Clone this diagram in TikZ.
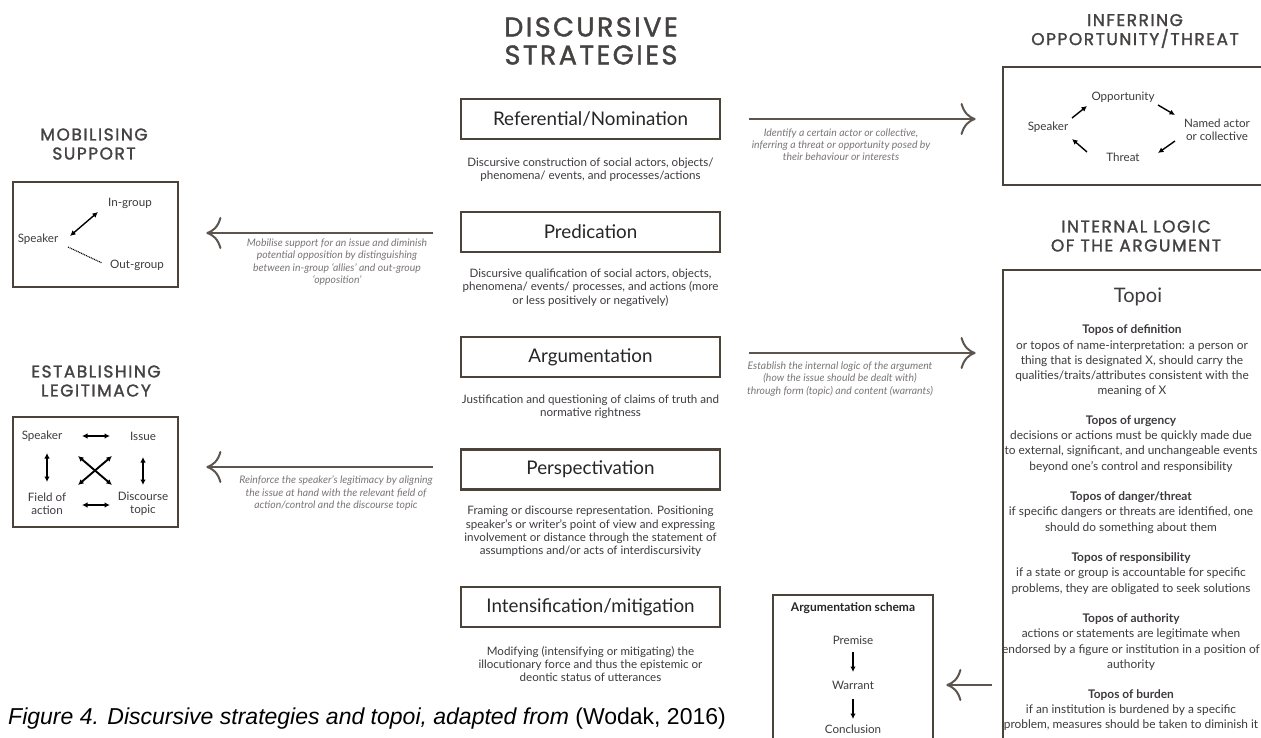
\documentclass[tikz,border=0pt]{standalone}
\usepackage{fontspec}
\setmainfont{Lato}
\newfontfamily\headfont{Poppins}[LetterSpace=9, FakeBold=1.5]
\newfontfamily\capfont{Liberation Sans}
\usetikzlibrary{arrows.meta,calc}

\definecolor{framebrown}{HTML}{4B4239}
\definecolor{headgray}{HTML}{454242}
\definecolor{textgray}{HTML}{3E3A3F}
\definecolor{notegray}{HTML}{7B7676}

\begin{document}
\begin{tikzpicture}[x=1pt,y=-1pt,
    heading/.style={font=\headfont\fontsize{27}{28}\selectfont, text=headgray, align=center},
    subheading/.style={font=\headfont\fontsize{17}{19}\selectfont, text=headgray, align=center},
    strategy/.style={draw=framebrown, line width=2.8pt, minimum width=259pt, minimum height=40pt,
        font=\fontsize{18.8}{20}\selectfont, text=black!85},
    gloss/.style={font=\fontsize{11.6}{13.4}\selectfont, text=textgray, align=center},
    note/.style={font=\itshape\fontsize{10.4}{12.2}\selectfont, text=notegray, align=center},
    panel/.style={draw=framebrown, line width=2.8pt},
    entry/.style={font=\fontsize{11.6}{12.5}\selectfont, text=textgray, align=center, inner sep=1pt},
    topos/.style={font=\fontsize{11.9}{15.23}\selectfont, text=textgray, align=center},
    bigarrow/.style={draw=framebrown!90, line width=2pt, -{To[length=15pt,width=32pt]}},
    onehead/.style={line width=1.4pt, -{Latex[length=5.5pt,width=5.5pt]}},
    twohead/.style={line width=1.4pt, {Latex[length=5.5pt,width=5.5pt]}-{Latex[length=5.5pt,width=5.5pt]}},
  ]
  \useasboundingbox (0,0) rectangle (1261,738);
  \clip (0,0) rectangle (1261,738);
  \fill[white] (0,0) rectangle (1261,738);

  % centre column
  \node[heading] (title) at (591,41) {DISCURSIVE\\STRATEGIES};

  \node[strategy] (ref) at (590.5,119) {Referential/Nomination};
  \node[gloss] (refnote) at (590.5,169.5) {Discursive construction of social actors, objects/\\phenomena/ events, and processes/actions};
  \node[strategy] (pred) at (590.5,232) {Predication};
  \node[gloss] (prednote) at (590.5,287.5) {Discursive qualification of social actors, objects,\\phenomena/ events/ processes, and actions (more\\or less positively or negatively)};
  \node[strategy] (arg) at (590.5,357) {Argumentation};
  \node[gloss] (argnote) at (590.5,406.5) {Justification and questioning of claims of truth and\\normative rightness};
  \node[strategy] (persp) at (590.5,469.5) {Perspectivation};
  \node[gloss] (perspnote) at (590.5,531.5) {Framing or discourse representation. Positioning\\speaker's or writer's point of view and expressing\\involvement or distance through the statement of\\assumptions and/or acts of interdiscursivity};
  \node[strategy] (intens) at (590.5,607) {Intensification/mitigation};
  \node[gloss] (intensnote) at (590.5,664) {Modifying (intensifying or mitigating) the\\illocutionary force and thus the epistemic or\\deontic status of utterances};

  % mobilising support
  \node[subheading] (mobtitle) at (94,144) {MOBILISING\\SUPPORT};
  \node[panel, minimum width=165pt, minimum height=105pt] (mobbox) at (95.5,234.5) {};
  \node[entry] (mspk) at (38,239) {Speaker};
  \node[entry] (ingrp) at (130,203) {In-group};
  \node[entry] (outgrp) at (137,265) {Out-group};
  \draw[twohead] ($(mspk)+(32,-3)$) -- ($(ingrp)+(-32,9)$);
  \draw[line width=1.1pt, dash pattern=on 1pt off 0.8pt] ($(mspk)+(30,8)$) -- ($(outgrp)+(-35,-2)$);

  % establishing legitimacy
  \node[subheading] (legtitle) at (96,381) {ESTABLISHING\\LEGITIMACY};
  \node[panel, minimum width=165pt, minimum height=110pt] (legbox) at (95.5,472) {};
  \node[entry] (lspk) at (42,436) {Speaker};
  \node[entry] (lissue) at (143,436) {Issue};
  \node[entry] (lfield) at (47,504) {Field of\\action};
  \node[entry] (ltopic) at (143,504) {Discourse\\topic};
  \draw[twohead] ($(lspk)+(40,0)$) -- ($(lissue)+(-33,0)$);
  \draw[twohead] ($(lfield)+(35,1)$) -- ($(ltopic)+(-33,1)$);
  \draw[twohead] ($(lspk)+(5,17)$) -- ($(lfield)+(0,-22)$);
  \draw[twohead] ($(lissue)+(0,21)$) -- ($(ltopic)+(0,-19)$);
  \draw[twohead, line width=1.9pt] ($(lspk)+(36,20)$) -- ($(ltopic)+(-31,-19)$);
  \draw[twohead, line width=1.9pt] ($(lissue)+(-31,20)$) -- ($(lfield)+(31,-19)$);

  % inferring opportunity/threat
  \node[subheading] (inftitle) at (1135,31) {INFERRING\\OPPORTUNITY/THREAT};
  \node[panel, minimum width=272pt, minimum height=118pt] (infbox) at (1139,126) {};
  \node[entry] (ispk) at (1048,127) {Speaker};
  \node[entry] (iopp) at (1123,97) {Opportunity};
  \node[entry] (inamed) at (1217,130) {Named actor\\or collective};
  \node[entry] (ithreat) at (1123,157) {Threat};
  \draw[onehead] ($(ispk)+(24,-9)$) -- ($(iopp)+(-36,9)$);
  \draw[onehead] ($(iopp)+(35,8)$) -- ($(inamed)+(-42,-15)$);
  \draw[onehead] ($(inamed)+(-42,11)$) -- ($(ithreat)+(35,-4)$);
  \draw[onehead] ($(ithreat)+(-36,-5)$) -- ($(ispk)+(24,12)$);

  % internal logic
  \node[subheading] (logtitle) at (1136,236) {INTERNAL LOGIC\\OF THE ARGUMENT};
  \node[panel, minimum width=272pt, minimum height=490pt] (topbox) at (1139,515) {};
  \node[font=\fontsize{20}{22}\selectfont, text=textgray] (topoi) at (1138,297) {Topoi};
  \node[topos] (tdef) at (1132,361) {\textbf{Topos of definition}\\or topos of name-interpretation: a person or\\thing that is designated X, should carry the\\qualities/traits/attributes consistent with the\\meaning of X};
  \node[topos] (turg) at (1131,444) {\textbf{Topos of urgency}\\decisions or actions must be quickly made due\\to external, significant, and unchangeable events\\beyond one's control and responsibility};
  \node[topos] (tdanger) at (1131,512.5) {\textbf{Topos of danger/threat}\\if specific dangers or threats are identified, one\\should do something about them};
  \node[topos] (tresp) at (1131,573.5) {\textbf{Topos of responsibility}\\if a state or group is accountable for specific\\problems, they are obligated to seek solutions};
  \node[topos] (tauth) at (1131,642) {\textbf{Topos of authority}\\actions or statements are legitimate when\\endorsed by a figure or institution in a position of\\authority};
  \node[topos] (tburden) at (1131,710) {\textbf{Topos of burden}\\if an institution is burdened by a specific\\problem, measures should be taken to diminish it};

  % argumentation schema
  \node[panel, minimum width=160pt, minimum height=160pt] (schbox) at (853,675) {};
  \node[font=\bfseries\fontsize{12}{13}\selectfont, text=black!85] (schtitle) at (853,608) {Argumentation schema};
  \node[entry] (premise) at (853,640) {Premise};
  \node[entry] (warrant) at (853,685) {Warrant};
  \node[entry] (concl) at (853,729) {Conclusion};
  \draw[onehead] ($(premise)+(0,12)$) -- ($(warrant)+(0,-13)$);
  \draw[onehead] ($(warrant)+(0,14)$) -- ($(concl)+(0,-10)$);

  % connectors between columns
  \draw[bigarrow] ($(ref.east)+(28,0)$) -- ($(ref.east -| infbox.west)+(-26,0)$);
  \node[note] (refarrow) at (841,145) {Identify a certain actor or collective,\\inferring a threat or opportunity posed by\\their behaviour or interests};
  \draw[bigarrow] ($(arg.east)+(28,-4)$) -- ($(arg.east -| topbox.west)+(-26,-4)$);
  \node[note] (argarrow) at (840,379) {Establish the internal logic of the argument\\(how the issue should be dealt with)\\through form (topic) and content (warrants)};
  \draw[bigarrow] ($(pred.west)+(-27,1)$) -- ($(pred.west -| mobbox.east)+(27,1)$);
  \node[note] (predarrow) at (337,262) {Mobilise support for an issue and diminish\\potential opposition by distinguishing\\between in-group ‘allies’ and out-group\\‘opposition’};
  \draw[bigarrow] ($(persp.west)+(-27,-2.5)$) -- ($(persp.west -| legbox.east)+(27,-2.5)$);
  \node[note] (persparrow) at (336,493) {Reinforce the speaker's legitimacy by aligning\\the issue at hand with the relevant field of\\action/control and the discourse topic};
  \draw[bigarrow] ($(warrant -| topbox.west)+(-10,0)$) -- ($(warrant -| schbox.east)+(12,0)$);

  \node[anchor=west, inner sep=0, font=\capfont\fontsize{23}{25}\selectfont] (caption) at (8,719)
    {{\itshape Figure 4. Discursive strategies and topoi, adapted from} (Wodak, 2016)};
\end{tikzpicture}
\end{document}
